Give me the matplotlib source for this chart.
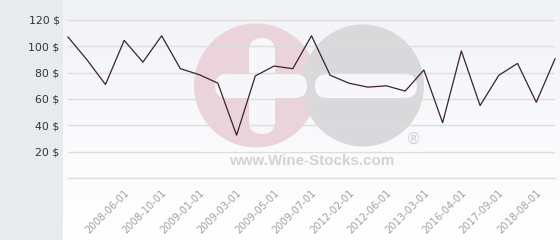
import numpy as np
import matplotlib.pyplot as plt
from matplotlib.patches import Circle, FancyBboxPatch, Rectangle

# prices, one per sale date (27 points)
prices = [107, 90, 71, 104.5, 88, 108, 83, 78.5, 72, 32.5, 77.5, 85, 83,
          108, 78, 72, 69, 70, 66, 82, 42, 96.5, 55, 78, 87, 57.5, 90.5]
# only every other date is labelled on the axis, starting at the 4th point
tick_labels = ['2008-06-01', '2008-10-01', '2009-01-01', '2009-03-01',
               '2009-05-01', '2009-07-01', '2012-02-01', '2012-06-01',
               '2013-03-01', '2016-04-01', '2017-09-01', '2018-08-01']
y_ticks = [0, 20, 40, 60, 80, 100, 120]

W, H = 560, 240
fig = plt.figure(figsize=(W / 100, H / 100), dpi=100)
fig.patch.set_facecolor('white')

# background layer in pixel coordinates
bg = fig.add_axes([0, 0, 1, 1])
bg.axis('off')
bg.add_patch(Rectangle((0, 0), 63, H, color='#e7ebee', lw=0))
grad = np.linspace(0, 1, 100)[:, None]
top = np.array([0.949, 0.953, 0.969])
bot = np.array([1.0, 1.0, 1.0])
img = top[None, None, :] * (1 - grad[..., None]) + bot[None, None, :] * grad[..., None]
bg.imshow(img, extent=(63, W, H, 0), aspect='auto', zorder=0)
bg.set_xlim(0, W)
bg.set_ylim(H, 0)

# watermark
wm_white = '#f7f7fa'
bg.add_patch(Circle((256, 85.5), 62, color='#ead3da', lw=0, zorder=1))
bg.add_patch(Circle((363, 85.5), 61, color='#d9d9db', lw=0, zorder=2))
bg.add_patch(FancyBboxPatch((215, 74), 92, 24,
                            boxstyle='round,pad=0,rounding_size=12',
                            color=wm_white, lw=0, zorder=3))
bg.add_patch(FancyBboxPatch((249, 38), 26, 96,
                            boxstyle='round,pad=0,rounding_size=13',
                            color=wm_white, lw=0, zorder=3))
bg.add_patch(FancyBboxPatch((315, 74), 102, 24,
                            boxstyle='round,pad=0,rounding_size=12',
                            color=wm_white, lw=0, zorder=3))
bg.add_patch(Rectangle((197, 150), 230, 22, color='#fbfbfc', lw=0, zorder=3))
bg.text(312, 161, 'www.Wine-Stocks.com', family='Liberation Sans',
        weight='bold', fontsize=10.9, color='#d3d3d5', ha='center',
        va='center', zorder=4)
bg.text(413, 139, '®', family='DejaVu Sans', fontsize=11, color='#d2d2d4',
        ha='center', va='center', zorder=4)

# main chart
ax = fig.add_axes([68 / W, (H - 178) / H, (555 - 68) / W, 178 / H])
ax.set_facecolor('none')
x = np.arange(len(prices))
ax.plot(x, prices, color='#3b2232', lw=0.9, clip_on=False, zorder=3)
ax.set_xlim(0, len(prices) - 1)
ax.set_ylim(0, 178 / 1.317)
for s in ax.spines.values():
    s.set_visible(False)

ax.set_yticks(y_ticks)
ax.set_yticklabels(['' if v == 0 else f'{v} $' for v in y_ticks],
                   fontsize=7.8, color='#333333')
ax.tick_params(axis='y', length=0, pad=6)
ax.grid(axis='y', color='#dddddd', lw=1)
ax.axhline(0, color='#dddddd', lw=1, clip_on=False, zorder=0)
ax.set_axisbelow(True)

ax.set_xticks(x[3::2][:len(tick_labels)])
ax.set_xticklabels(tick_labels, rotation=45, ha='right', va='top',
                   rotation_mode='anchor', fontsize=7.1, color='#a0a0a0')
ax.tick_params(axis='x', length=0, pad=7)

fig.savefig('out.png', dpi=100)
